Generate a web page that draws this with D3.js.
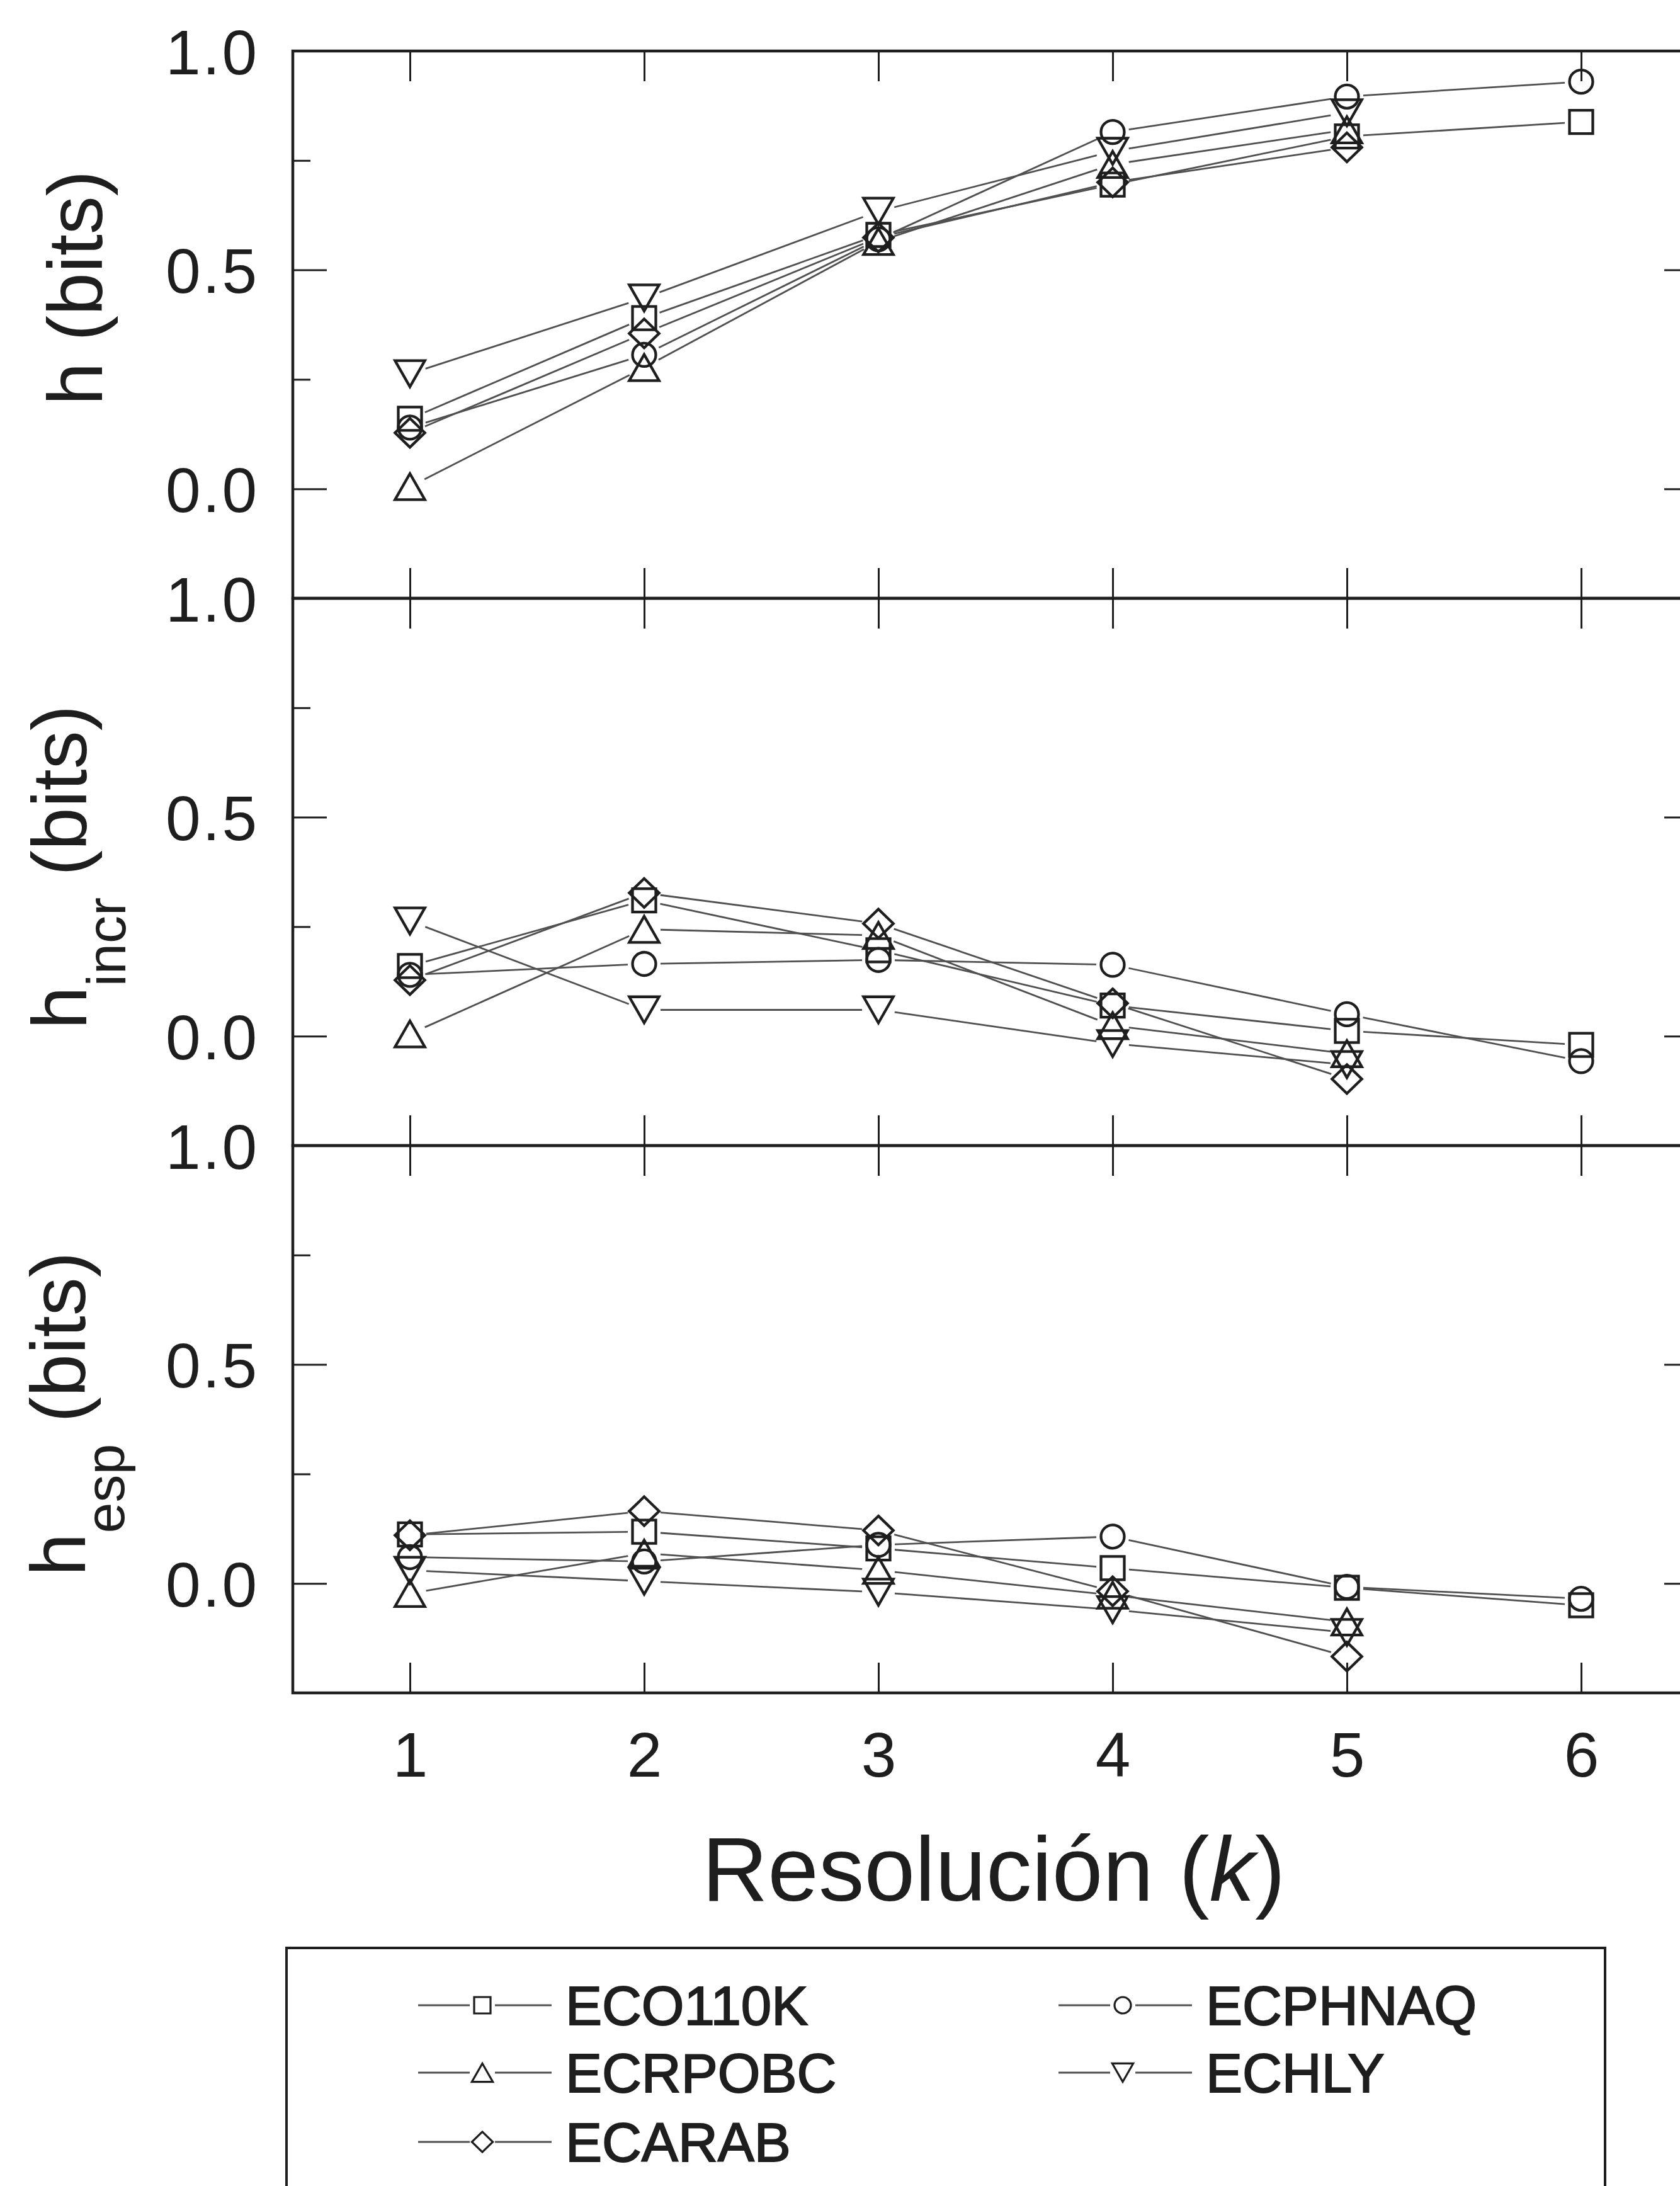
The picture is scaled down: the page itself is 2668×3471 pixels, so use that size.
<!DOCTYPE html>
<html><head><meta charset="utf-8">
<script src="https://cdn.jsdelivr.net/npm/d3@7"></script>
<style>body{margin:0;background:#fff} svg{display:block}</style>
</head><body>
<svg id="c" width="2668" height="3471"></svg>
<script>
// ---------- DATA ----------
const k = [1, 2, 3, 4, 5, 6];
const seriesNames   = ["ECO110K", "ECPHNAQ", "ECRPOBC", "ECHLY", "ECARAB"];
const seriesSymbols = ["square", "circle", "triangleUp", "triangleDown", "diamond"];
// h (bits), series order as seriesNames
const hValues = [
  [0.160, 0.390, 0.580, 0.695, 0.805, 0.838],
  [0.140, 0.306, 0.570, 0.815, 0.896, 0.930],
  [0.005, 0.277, 0.565, 0.741, 0.820],
  [0.263, 0.436, 0.634, 0.771, 0.859],
  [0.128, 0.355, 0.574, 0.700, 0.780]
];
// h_incr (bits)
const hIncrValues = [
  [0.160, 0.310, 0.196, 0.070, 0.012, -0.020],
  [0.140, 0.165, 0.174, 0.163, 0.050, -0.057],
  [0.005, 0.244, 0.230, 0.024, -0.040],
  [0.263, 0.060, 0.060, -0.017, -0.065],
  [0.128, 0.327, 0.257, 0.075, -0.098]
];
// h_esp (bits)
const hEspValues = [
  [0.112, 0.118, 0.080, 0.035, -0.010, -0.050],
  [0.060, 0.050, 0.088, 0.107, -0.008, -0.035],
  [-0.023, 0.069, 0.030, -0.027, -0.088],
  [0.030, 0.005, -0.020, -0.060, -0.112],
  [0.110, 0.165, 0.121, -0.018, -0.167]
];
const yMajorTicks = [0.0, 0.5, 1.0];
const yMinorTicks = [0.25, 0.75];
const yTickLabels = ["0.0", "0.5", "1.0"];
const xTickLabels = ["1", "2", "3", "4", "5", "6"];
const panelTitles = [
  {main: "h", sub: "", unit: "(bits)"},
  {main: "h", sub: "incr", unit: "(bits)"},
  {main: "h", sub: "esp", unit: "(bits)"}
];
const xTitle = ["Resolución (", "k", ")"];

// ---------- LAYOUT ----------
const FONT = "'Liberation Sans', Arial, Helvetica, sans-serif";
const svg = d3.select("#c");
const left = 465, right = 2697;
const panelTop = [81, 950, 1819];
const panelH = 869;
const ink = "#1e1e1e", lineCol = "#505050";

const x = d3.scaleLinear().domain([0.5, 6.5]).range([left, right]);

function markerPath(type, s) {
  const p = d3.path();
  if (type === "square") { p.rect(-0.5*s, -0.5*s, s, s); }
  else if (type === "circle") { p.moveTo(0.5*s, 0); p.arc(0, 0, 0.5*s, 0, 2*Math.PI); p.closePath(); }
  else if (type === "triangleUp") { p.moveTo(0, -0.56*s); p.lineTo(0.64*s, 0.56*s); p.lineTo(-0.64*s, 0.56*s); p.closePath(); }
  else if (type === "triangleDown") { p.moveTo(0, 0.56*s); p.lineTo(0.64*s, -0.56*s); p.lineTo(-0.64*s, -0.56*s); p.closePath(); }
  else if (type === "diamond") { p.moveTo(0, -0.62*s); p.lineTo(0.64*s, 0); p.lineTo(0, 0.62*s); p.lineTo(-0.64*s, 0); p.closePath(); }
  return p.toString();
}

const panelData = [hValues, hIncrValues, hEspValues];
const titleAnchor = [[162, 457], [137, 1377], [135, 2245]];

panelData.forEach((data, pi) => {
  const top = panelTop[pi];
  const y = d3.scaleLinear().domain([-0.25, 1.0]).range([top + panelH, top]);
  const g = svg.append("g");

  // left axis: major ticks with labels
  const la = g.append("g").attr("transform", `translate(${left},0)`)
    .call(d3.axisLeft(y).tickValues(yMajorTicks).tickSizeInner(-54).tickSizeOuter(0).tickPadding(54)
      .tickFormat((d, i) => yTickLabels[i]));
  la.select(".domain").remove();
  la.selectAll("line").attr("stroke", ink).attr("stroke-width", 3);
  la.selectAll("text").attr("font-family", FONT).attr("font-size", 100).attr("fill", ink)
    .attr("dy", "0.36em").attr("letter-spacing", 3);
  const lm = g.append("g").attr("transform", `translate(${left},0)`)
    .call(d3.axisLeft(y).tickValues(yMinorTicks).tickSizeInner(-28).tickSizeOuter(0).tickFormat(""));
  lm.select(".domain").remove();
  lm.selectAll("line").attr("stroke", ink).attr("stroke-width", 3);

  // right axis
  const ra = g.append("g").attr("transform", `translate(${right},0)`)
    .call(d3.axisRight(y).tickValues(yMajorTicks).tickSizeInner(-54).tickSizeOuter(0).tickFormat(""));
  ra.select(".domain").remove();
  ra.selectAll("line").attr("stroke", ink).attr("stroke-width", 3);
  const rm = g.append("g").attr("transform", `translate(${right},0)`)
    .call(d3.axisRight(y).tickValues(yMinorTicks).tickSizeInner(-28).tickSizeOuter(0).tickFormat(""));
  rm.select(".domain").remove();
  rm.selectAll("line").attr("stroke", ink).attr("stroke-width", 3);

  // top / bottom x ticks
  const ta = g.append("g").attr("transform", `translate(0,${top})`)
    .call(d3.axisTop(x).tickValues(k).tickSizeInner(-48).tickSizeOuter(0).tickFormat(""));
  ta.select(".domain").remove();
  ta.selectAll("line").attr("stroke", ink).attr("stroke-width", 3);
  const ba = g.append("g").attr("transform", `translate(0,${top + panelH})`)
    .call(d3.axisBottom(x).tickValues(k).tickSizeInner(-48).tickSizeOuter(0).tickPadding(62)
      .tickFormat((d, i) => pi === 2 ? xTickLabels[i] : ""));
  ba.select(".domain").remove();
  ba.selectAll("line").attr("stroke", ink).attr("stroke-width", 3);
  ba.selectAll("text").attr("font-family", FONT).attr("font-size", 100).attr("fill", ink);

  // frame
  g.append("rect").attr("x", left).attr("y", top).attr("width", right - left).attr("height", panelH)
    .attr("fill", "none").attr("stroke", ink).attr("stroke-width", 4.5);

  // y title
  const [tx, ty] = titleAnchor[pi];
  const t = g.append("text").attr("transform", `translate(${tx},${ty}) rotate(-90)`)
    .attr("text-anchor", "middle").attr("font-family", FONT).attr("font-size", 122).attr("fill", ink);
  const pt = panelTitles[pi];
  t.append("tspan").text(pt.main);
  if (pt.sub) {
    t.append("tspan").attr("font-size", 88).attr("dy", 62).text(pt.sub);
    t.append("tspan").attr("dy", -62).text("\u00a0" + pt.unit);
  } else {
    t.append("tspan").text(" " + pt.unit);
  }

  // series lines with gaps near markers
  const gap = 26;
  data.forEach((vals, si) => {
    const pts = vals.map((v, j) => [x(k[j]), y(v)]);
    for (let j = 0; j < pts.length - 1; j++) {
      const [x1, y1] = pts[j], [x2, y2] = pts[j + 1];
      const d = Math.hypot(x2 - x1, y2 - y1);
      if (d <= 2 * gap) continue;
      const ux = (x2 - x1) / d, uy = (y2 - y1) / d;
      g.append("line")
        .attr("x1", x1 + ux * gap).attr("y1", y1 + uy * gap)
        .attr("x2", x2 - ux * gap).attr("y2", y2 - uy * gap)
        .attr("stroke", lineCol).attr("stroke-width", 2.8);
    }
  });
  data.forEach((vals, si) => {
    g.selectAll(null).data(vals).enter().append("path")
      .attr("transform", (v, j) => `translate(${x(k[j])},${y(v)})`)
      .attr("d", markerPath(seriesSymbols[si], 37))
      .attr("fill", "none").attr("stroke", ink).attr("stroke-width", 4.3);
  });
});

// x title
const xt = svg.append("text").attr("x", 1578).attr("y", 3018).attr("text-anchor", "middle")
  .attr("font-family", FONT).attr("font-size", 145).attr("fill", ink);
xt.append("tspan").text(xTitle[0]);
xt.append("tspan").attr("font-style", "italic").text(xTitle[1]);
xt.append("tspan").text(xTitle[2]);

// legend
svg.append("rect").attr("x", 455).attr("y", 3093).attr("width", 2094).attr("height", 520)
  .attr("fill", "none").attr("stroke", ink).attr("stroke-width", 4);
const legendPos = [[766, 3184], [1783, 3184], [766, 3291], [1783, 3291], [766, 3401]];
seriesNames.forEach((name, si) => {
  const [mx, my] = legendPos[si];
  const lg = svg.append("g");
  lg.append("line").attr("x1", mx - 102).attr("x2", mx - 20).attr("y1", my).attr("y2", my)
    .attr("stroke", lineCol).attr("stroke-width", 3);
  lg.append("line").attr("x1", mx + 20).attr("x2", mx + 110).attr("y1", my).attr("y2", my)
    .attr("stroke", lineCol).attr("stroke-width", 3);
  lg.append("path").attr("transform", `translate(${mx},${my})`)
    .attr("d", markerPath(seriesSymbols[si], 26))
    .attr("fill", "none").attr("stroke", ink).attr("stroke-width", 3.2);
  lg.append("text").attr("x", mx + 132).attr("y", my).attr("dy", "0.36em")
    .attr("font-family", FONT).attr("font-size", 87).attr("fill", ink)
    .attr("stroke", ink).attr("stroke-width", 2).text(name);
});
</script>
</body></html>
